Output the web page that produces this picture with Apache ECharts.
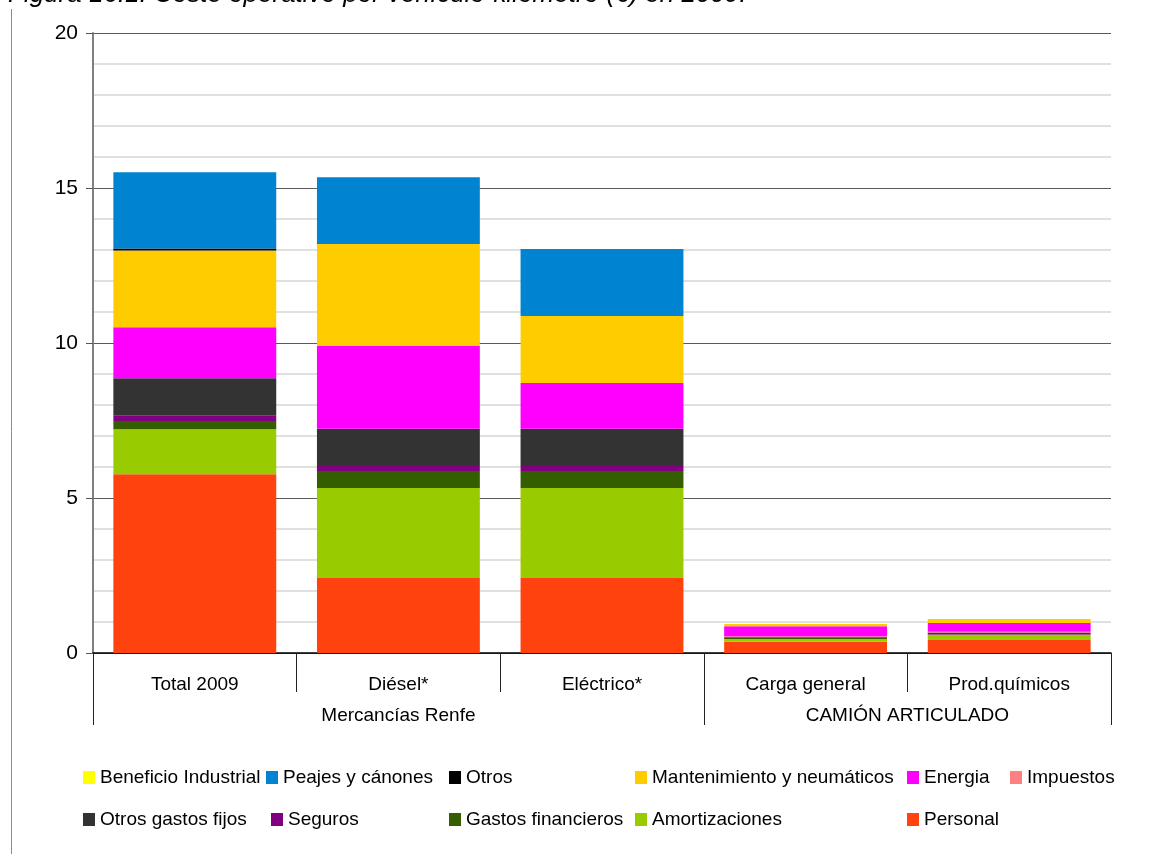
<!DOCTYPE html>
<html>
<head>
<meta charset="utf-8">
<script src="https://cdn.jsdelivr.net/npm/echarts@6/dist/echarts.min.js"></script>
<style>
  html, body { margin: 0; padding: 0; background: #fff; }
  #chart { width: 1168px; height: 854px; }
</style>
</head>
<body>
<div id="chart"></div>
<script>
const categories = ['Total 2009', 'Diésel*', 'Eléctrico*', 'Carga general', 'Prod.químicos'];
const groupLabels = { 1.5: 'Mercancías Renfe', 4: 'CAMIÓN ARTICULADO' };

// stacked from bottom to top
const personal      = [5.77, 2.42, 2.42, 0.36, 0.42];
const amortizaciones = [1.45, 2.90, 2.90, 0.09, 0.17];
const gastosFin     = [0.26, 0.55, 0.55, 0.03, 0.01];
const seguros       = [0.19, 0.16, 0.16, 0.02, 0.065];
const otrosFijos    = [1.19, 1.20, 1.20, 0.02, 0];
const impuestos     = [0, 0, 0, 0.02, 0.02];
const energia       = [1.65, 2.67, 1.48, 0.32, 0.28];
const mantenimiento = [2.47, 3.29, 2.16, 0.075, 0.13];
const otros         = [0.065, 0, 0, 0, 0];
const peajes        = [2.46, 2.16, 2.16, 0, 0];
const beneficio     = [0, 0, 0, 0, 0];

const stackSeries = [
  { name: 'Personal', data: personal, color: '#ff420e' },
  { name: 'Amortizaciones', data: amortizaciones, color: '#99cc00' },
  { name: 'Gastos financieros', data: gastosFin, color: '#355e00' },
  { name: 'Seguros', data: seguros, color: '#800080' },
  { name: 'Otros gastos fijos', data: otrosFijos, color: '#333333' },
  { name: 'Impuestos', data: impuestos, color: '#ff8080' },
  { name: 'Energia', data: energia, color: '#ff00ff' },
  { name: 'Mantenimiento y neumáticos', data: mantenimiento, color: '#ffcc00' },
  { name: 'Otros', data: otros, color: '#000000' },
  { name: 'Peajes y cánones', data: peajes, color: '#0084d1' },
  { name: 'Beneficio Industrial', data: beneficio, color: '#ffff00' }
];

// legend placement: [name, left, top]
const legendSlots = [
  ['Beneficio Industrial', 83, 768],
  ['Peajes y cánones', 266, 768],
  ['Otros', 449, 768],
  ['Mantenimiento y neumáticos', 635, 768],
  ['Energia', 907, 768],
  ['Impuestos', 1010, 768],
  ['Otros gastos fijos', 83, 810],
  ['Seguros', 271, 810],
  ['Gastos financieros', 449, 810],
  ['Amortizaciones', 635, 810],
  ['Personal', 907, 810]
];

const font = 'Liberation Sans';
const chart = echarts.init(document.getElementById('chart'));

chart.setOption({
  animation: false,
  textStyle: { fontFamily: font },
  grid: { left: 93, right: 57, top: 33, bottom: 201 },
  graphic: [
    {
      type: 'text', left: 8, top: -18,
      style: { text: 'Figura 16.1. Coste operativo por vehículo-kilómetro (€) en 2009.',
        font: 'italic 26px Liberation Sans', fill: '#000' }
    },
    {
      type: 'line', shape: { x1: 11.5, y1: 9, x2: 11.5, y2: 854 },
      style: { stroke: '#8c8c8c', lineWidth: 1 }
    }
  ],
  legend: legendSlots.map(([name, left, top]) => ({
    data: [name],
    left, top,
    padding: 0,
    icon: 'rect',
    itemWidth: 12,
    itemHeight: 13,
    textStyle: { fontSize: 19, color: '#000', fontFamily: font },
    selectedMode: false
  })),
  xAxis: [
    {
      type: 'category',
      data: categories,
      position: 'bottom',
      axisLine: { lineStyle: { color: '#000', width: 1.5 } },
      axisTick: { show: true, interval: 0, length: 39, lineStyle: { color: '#222', width: 1 } },
      axisLabel: { fontSize: 19, color: '#000', margin: 22, interval: 0 }
    },
    {
      type: 'value',
      min: 0, max: 5,
      position: 'bottom',
      axisLine: { show: false },
      splitLine: { show: false },
      axisTick: { show: true, customValues: [0, 3, 5], length: 72, lineStyle: { color: '#222', width: 1 } },
      axisLabel: {
        customValues: [1.5, 4], fontSize: 19, color: '#000', margin: 53,
        formatter: v => groupLabels[v] || ''
      }
    }
  ],
  yAxis: {
    type: 'value',
    min: 0, max: 20, interval: 5,
    axisLine: { show: true, lineStyle: { color: '#808080', width: 2 } },
    axisTick: { show: true, length: 7, lineStyle: { color: '#555' } },
    axisLabel: { fontSize: 21, color: '#000', margin: 15 },
    splitLine: { lineStyle: { color: '#5a5a5a', width: 1 } },
    minorTick: { show: false, splitNumber: 5 },
    minorSplitLine: { show: true, lineStyle: { color: '#d6d6d6', width: 1.5 } }
  },
  series: stackSeries.map(s => ({
    name: s.name,
    type: 'bar',
    stack: 'total',
    xAxisIndex: 0,
    barWidth: '80%',
    data: s.data,
    itemStyle: { color: s.color },
    emphasis: { disabled: true }
  }))
});

window.addEventListener('resize', () => chart.resize());
</script>
</body>
</html>
